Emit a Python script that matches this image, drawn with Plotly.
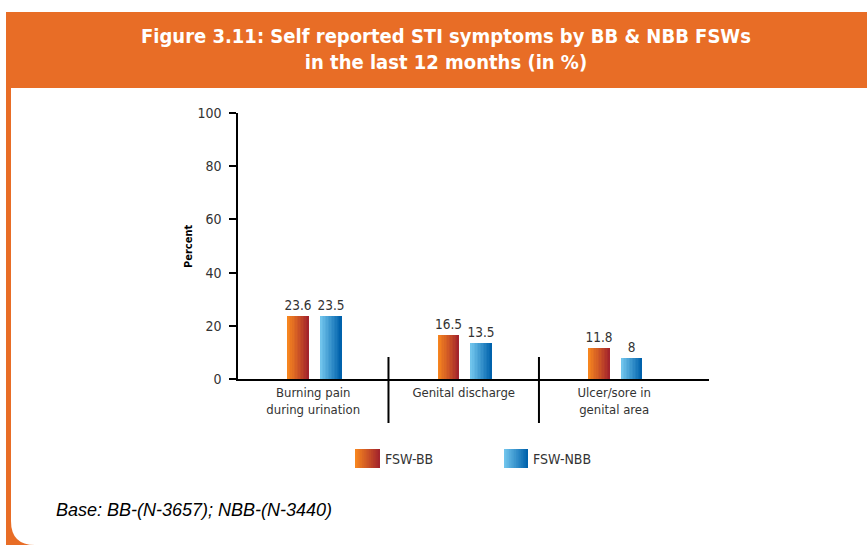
import plotly.graph_objects as go

# ---------------- data ----------------
categories = ["Burning pain<br>during urination", "Genital discharge", "Ulcer/sore in<br>genital area"]
series_names = ["FSW-BB", "FSW-NBB"]
bb_values = [23.6, 16.5, 11.8]
nbb_values = [23.5, 13.5, 8]
y_ticks = [0, 20, 40, 60, 80, 100]

# ---------------- styling ----------------
W, H = 867, 545
ML, MR, MT, MB = 238, 158, 113, 166
PW = W - ML - MR
PH = H - MT - MB
XR = [-0.5, 2.63]
ORANGE = "#E86D26"
FONT = "DejaVu Sans Condensed, DejaVu Sans, sans-serif"
TXT = "#333333"
grad = {
    "FSW-BB": ((246, 133, 31), (163, 36, 44)),
    "FSW-NBB": ((112, 196, 236), (0, 98, 172)),
}
BW = 0.143
offsets = {"FSW-BB": -0.172, "FSW-NBB": 0.045}
NS = 14


def xp(px):
    return (px - ML) / PW


def yp(py):
    return (H - MB - py) / PH


def mix(c0, c1, t):
    return "rgb(%d,%d,%d)" % tuple(round(a + (b - a) * t) for a, b in zip(c0, c1))


fig = go.Figure()

for name, vals in zip(series_names, [bb_values, nbb_values]):
    c0, c1 = grad[name]
    off = offsets[name]
    fig.add_trace(go.Bar(
        x=categories, y=vals, width=BW, offset=off,
        marker=dict(color=mix(c0, c1, 0.5), line=dict(width=0)),
        text=[f"{v:g}" for v in vals], textposition="outside", constraintext="none",
        textfont=dict(family=FONT, size=13.5, color=TXT),
        cliponaxis=False, showlegend=False, name=name,
    ))
    step = BW / NS
    for i in range(NS):
        fig.add_trace(go.Bar(
            x=categories, y=vals, width=BW - i * step, offset=off + i * step,
            marker=dict(color=mix(c0, c1, i / (NS - 1)), line=dict(width=0)),
            showlegend=False, hoverinfo="skip", name=name,
        ))

shapes = []
# orange frame
shapes.append(dict(type="rect", xref="paper", yref="paper", layer="below",
                   x0=xp(6), x1=xp(W), y0=yp(12), y1=yp(H),
                   fillcolor=ORANGE, line=dict(width=0)))
# white panel with rounded bottom-left corner
r = 24
path = (f"M {xp(11)},{yp(88)} L {xp(W)},{yp(88)} L {xp(W)},{yp(H)} "
        f"L {xp(11 + r)},{yp(H)} Q {xp(11)},{yp(H)} {xp(11)},{yp(H - r)} Z")
shapes.append(dict(type="path", xref="paper", yref="paper", layer="below",
                   path=path, fillcolor="white", line=dict(width=0)))
# category dividers
for k in [0.5, 1.5]:
    fx = (k - XR[0]) / (XR[1] - XR[0])
    shapes.append(dict(type="line", xref="paper", yref="paper",
                       x0=fx, x1=fx, y0=yp(357), y1=yp(423),
                       line=dict(color="black", width=2)))
# legend swatches
annotations = []
leg = [("FSW-BB", 355, 380, 383), ("FSW-NBB", 504, 528, 531)]
for name, sx0, sx1, tx in leg:
    c0, c1 = grad[name]
    step = (sx1 - sx0) / NS
    for i in range(NS):
        shapes.append(dict(type="rect", xref="paper", yref="paper",
                           x0=xp(sx0 + i * step), x1=xp(sx1), y0=yp(468), y1=yp(449),
                           fillcolor=mix(c0, c1, i / (NS - 1)), line=dict(width=0)))
    annotations.append(dict(text=name, xref="paper", yref="paper", x=xp(tx), y=yp(459),
                            xanchor="left", yanchor="middle", showarrow=False,
                            font=dict(family=FONT, size=14, color=TXT)))

# title
annotations.append(dict(
    text="Figure 3.11: Self reported STI symptoms by BB &amp; NBB FSWs<br>in the last 12 months (in %)",
    xref="paper", yref="paper", x=xp(446), y=yp(49), xanchor="center", yanchor="middle",
    showarrow=False, align="center",
    font=dict(family=FONT, size=20, color="white", weight="bold")))
# y title
annotations.append(dict(text="<b>Percent</b>", xref="paper", yref="paper", x=xp(188), y=yp(247),
                        xanchor="center", yanchor="middle", textangle=-90, showarrow=False,
                        font=dict(family=FONT, size=11, color="black")))
# base note
annotations.append(dict(text="<i>Base: BB-(N-3657); NBB-(N-3440)</i>", xref="paper", yref="paper",
                        x=xp(54), y=yp(510), xanchor="left", yanchor="middle", showarrow=False,
                        font=dict(family="Liberation Sans, Arial, sans-serif", size=18, color="black")))

fig.update_layout(
    width=W, height=H,
    margin=dict(l=ML, r=MR, t=MT, b=MB, pad=0),
    paper_bgcolor="white", plot_bgcolor="rgba(0,0,0,0)",
    barmode="overlay", bargap=0,
    showlegend=False,
    shapes=shapes, annotations=annotations,
    xaxis=dict(type="category", range=XR, showline=True, linecolor="black", linewidth=2,
               ticks="", showgrid=False, zeroline=False,
               tickfont=dict(family=FONT, size=13, color=TXT), fixedrange=True),
    yaxis=dict(range=[0, 100], tickvals=y_ticks, showline=True, linecolor="black", linewidth=1.5,
               ticks="outside", ticklen=7, tickwidth=1.5, tickcolor="black",
               ticklabelstandoff=5,
               showgrid=False, zeroline=False,
               tickfont=dict(family=FONT, size=14, color=TXT), fixedrange=True),
)

fig.write_html("out.html", config={"displayModeBar": False},
               post_script="document.body.style.margin='0';document.body.style.padding='0';")
